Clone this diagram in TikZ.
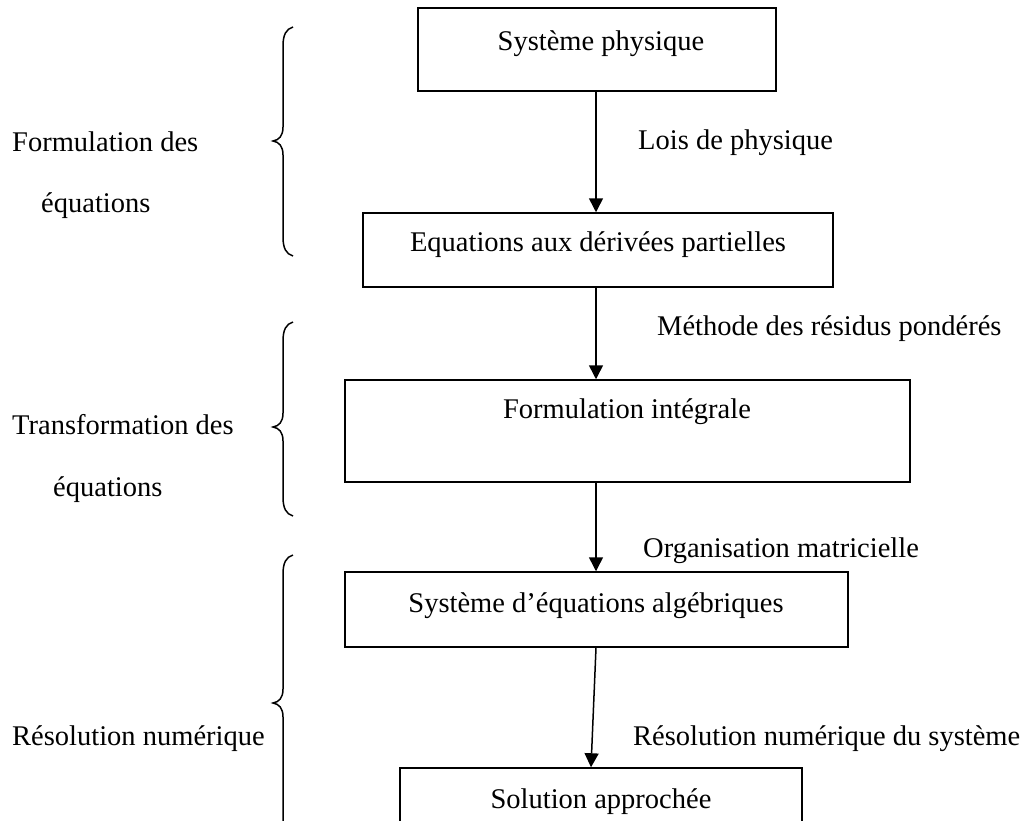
\documentclass[tikz,border=0pt]{standalone}
\usepackage{fontspec}
\setmainfont{Liberation Serif}
\usetikzlibrary{arrows.meta}
\begin{document}
\begin{tikzpicture}[x=1pt,y=-1pt,
  box/.style={draw, line width=1.5pt, inner sep=0pt},
  txt/.style={inner sep=0pt, anchor=base, font=\fontsize{28.5}{34}\selectfont},
  lbl/.style={inner sep=0pt, anchor=base west, font=\fontsize{28.5}{34}\selectfont},
  arr/.style={line width=1.5pt, -{Triangle[length=14pt,width=14pt]}},
  brc/.style={line width=1.5pt}]
\useasboundingbox (0,0) rectangle (1025,820);
\clip (0,0) rectangle (1025,820);
% boxes
\node[box, minimum width=358pt, minimum height=83pt] (b1) at (597,49.5) {};
\node[box, minimum width=470pt, minimum height=74pt] (b2) at (598,250) {};
\node[box, minimum width=565pt, minimum height=102pt] (b3) at (627.5,431) {};
\node[box, minimum width=503pt, minimum height=75pt] (b4) at (596.5,609.5) {};
\node[box, minimum width=402pt, minimum height=100pt] (b5) at (601,818) {};
% box texts
\node[txt] (t1) at (601,50) {Système physique};
\node[txt] (t2) at (598,251) {Equations aux dérivées partielles};
\node[txt] (t3) at (627,418) {Formulation intégrale};
\node[txt] (t4) at (596,612) {Système d’équations algébriques};
\node[txt] (t5) at (601,808) {Solution approchée};
% arrows
\coordinate (a1s) at (596,91);
\coordinate (a1e) at (596,213);
\draw[arr] (b1.south -| a1s) -- (b2.north -| a1e);
\draw[arr] (b2.south -| a1s) -- (b3.north -| a1e);
\draw[arr] (b3.south -| a1s) -- (b4.north -| a1e);
\coordinate (a4e) at (591,768);
\draw[arr] (b4.south -| a1s) -- (b5.north -| a4e);
% arrow labels
\node[lbl] (l1) at (638,149) {Lois de physique};
\node[lbl] (l2) at (657,335) {Méthode des résidus pondérés};
\node[lbl] (l3) at (643,557) {Organisation matricielle};
\node[lbl] (l4) at (633,745) {Résolution numérique du système};
% left labels
\node[lbl] (g1a) at (12,151) {Formulation des};
\node[lbl] (g1b) at (41,212) {équations};
\node[lbl] (g2a) at (12,434) {Transformation des};
\node[lbl] (g2b) at (53,496) {équations};
\node[lbl] (g3a) at (12,745) {Résolution numérique};
% braces
\draw[brc] (293,27) .. controls (286,29) and (283,35) .. (283,46) -- (283,127)
  .. controls (283,136) and (279,140) .. (273,141)
  .. controls (279,142) and (283,146) .. (283,155) -- (283,237)
  .. controls (283,248) and (286,254) .. (293,256);
\draw[brc] (293,322) .. controls (286,324) and (283,330) .. (283,341) -- (283,413)
  .. controls (283,422) and (279,426) .. (273,427)
  .. controls (279,428) and (283,432) .. (283,441) -- (283,497)
  .. controls (283,508) and (286,514) .. (293,516);
\draw[brc] (293,555) .. controls (286,557) and (283,563) .. (283,574) -- (283,689)
  .. controls (283,698) and (279,702) .. (273,703)
  .. controls (279,704) and (283,708) .. (283,717) -- (283,830);
\end{tikzpicture}
\end{document}
